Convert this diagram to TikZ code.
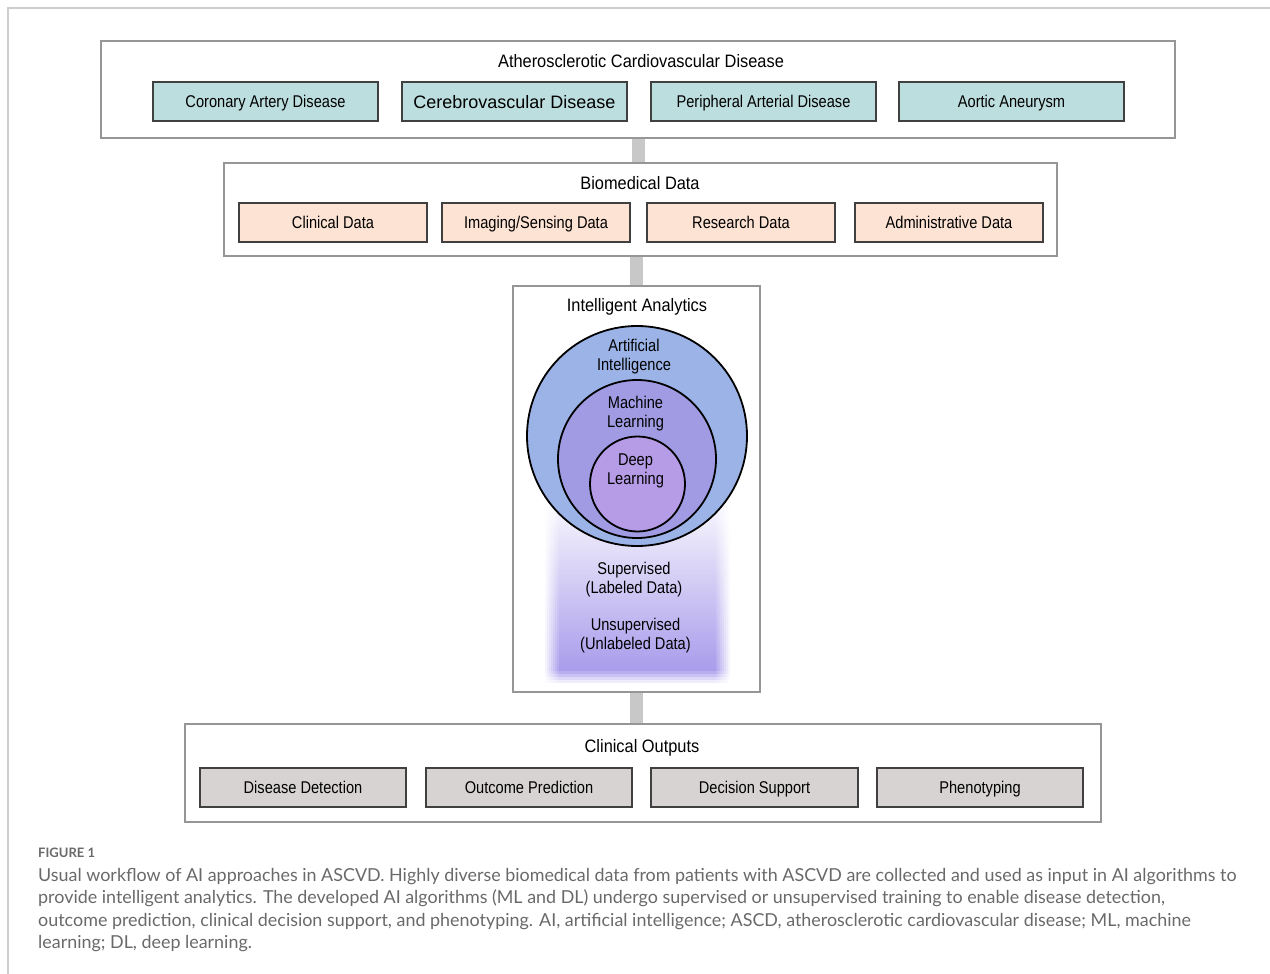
\documentclass[tikz,border=0pt]{standalone}
\usepackage{fontspec}
\setmainfont{Liberation Sans}
\newfontfamily\narfont[FakeStretch=0.86]{Liberation Sans}
\newfontfamily\titfont[FakeStretch=0.91]{Liberation Sans}
\newfontfamily\capfont{Lato}
\usetikzlibrary{calc}
\definecolor{tealc}{RGB}{189,222,222}
\definecolor{peachc}{RGB}{253,227,211}
\definecolor{greyc}{RGB}{216,211,211}
\definecolor{framec}{RGB}{150,150,150}
\definecolor{barc}{RGB}{200,200,200}
\definecolor{aiC}{RGB}{155,179,230}
\definecolor{mlC}{RGB}{161,155,228}
\definecolor{dlC}{RGB}{182,156,230}
\definecolor{gradC}{RGB}{168,155,235}
\definecolor{capc}{RGB}{105,105,105}
\definecolor{outerc}{RGB}{205,205,205}
\begin{document}
\begin{tikzpicture}[x=1pt,y=-1pt,
  bigbox/.style={draw=framec, line width=2pt, fill=white, inner sep=0pt},
  subbox/.style={draw=black!75, line width=1.2pt, minimum height=39, inner sep=0pt, text depth=0pt,
    font=\narfont\fontsize{17}{20}\selectfont},
  title/.style={font=\titfont\fontsize{18}{21}\selectfont, inner sep=0pt, text depth=0pt},
  bar/.style={draw=barc, line width=13pt},
  ring/.style={circle, draw=black, line width=1.8pt, inner sep=0pt},
  clabel/.style={font=\narfont\fontsize{17}{19}\selectfont, align=center, inner sep=0pt},
  captext/.style={font=\capfont\fontsize{17.9}{20}\selectfont, text=capc, anchor=base west, inner sep=0pt}
]
\useasboundingbox (0,0) rectangle (1270,974);
\draw[outerc, line width=1.5pt] (8,974) -- (8,8) -- (1270,8);

% big boxes
\node[bigbox, minimum width=1074, minimum height=97] (ascvd) at (638,89.5) {};
\node[bigbox, minimum width=833, minimum height=93] (bio) at (640.5,209.5) {};
\node[bigbox, minimum width=247, minimum height=406] (ia) at (636.5,489) {};
\node[bigbox, minimum width=916, minimum height=98] (out) at (643,773) {};

% connectors
\draw[bar] (ascvd.south) -- (ascvd.south |- bio.north);
\draw[bar] (bio.south -| ia.north) -- (ia.north);
\draw[bar] (ia.south) -- (ia.south |- out.north);

% titles
\node[title] (t1) at (641,61) {Atherosclerotic Cardiovascular Disease};
\node[title] (t2) at (640,183) {Biomedical Data};
\node[title] (t3) at (637,305) {Intelligent Analytics};
\node[title] (t4) at (642,746) {Clinical Outputs};

% disease boxes
\node[subbox, fill=tealc, minimum width=225] (cad) at (265.5,101.5) {Coronary Artery Disease};
\node[subbox, fill=tealc, minimum width=225, font=\fontsize{18}{21}\selectfont] (cvd) at (514.5,101.5) {Cerebrovascular Disease};
\node[subbox, fill=tealc, minimum width=225] (pad) at (763.5,101.5) {Peripheral Arterial Disease};
\node[subbox, fill=tealc, minimum width=225] (aa) at (1011.5,101.5) {Aortic Aneurysm};

% data boxes
\node[subbox, fill=peachc, minimum width=188] (cd) at (333,222.5) {Clinical Data};
\node[subbox, fill=peachc, minimum width=188] (isd) at (536,222.5) {Imaging/Sensing Data};
\node[subbox, fill=peachc, minimum width=188] (rd) at (741,222.5) {Research Data};
\node[subbox, fill=peachc, minimum width=188] (ad) at (949,222.5) {Administrative Data};

% output boxes
\node[subbox, fill=greyc, minimum width=206] (dd) at (303,787.5) {Disease Detection};
\node[subbox, fill=greyc, minimum width=206] (op) at (529,787.5) {Outcome Prediction};
\node[subbox, fill=greyc, minimum width=207] (ds) at (754.5,787.5) {Decision Support};
\node[subbox, fill=greyc, minimum width=206] (ph) at (980,787.5) {Phenotyping};

% soft gradient region (opaque strips mixed with white)
\foreach \j in {0,...,65} {
  \pgfmathsetmacro\yy{488+3*\j}
  \pgfmathsetmacro\vv{min(1,(\j*3+1.5)/185)*max(0,min(1,(684-\yy-1.5)/14))}
  \foreach \i in {0,...,7} {
    \pgfmathsetmacro\pp{100*\vv*(\i+1)/8}
    \fill[gradC!\pp!white] (545+2*\i,\yy) rectangle (730-2*\i,\yy+3.3);
  }
}

% nested circles
\node[ring, fill=aiC, minimum size=220] (ai) at (637,436) {};
\node[ring, fill=mlC, minimum size=158] (ml) at (637,459) {};
\node[ring, fill=dlC, minimum size=95] (dl) at (637.5,484) {};

\node[clabel] (lai) at (634,356.5) {Artificial\\Intelligence};
\node[clabel] (lml) at (635.5,413.5) {Machine\\Learning};
\node[clabel] (ldl) at (635.5,470.5) {Deep\\Learning};

\node[clabel] (sup) at (634,579.5) {Supervised\\(Labeled Data)};
\node[clabel] (uns) at (635.5,635.5) {Unsupervised\\(Unlabeled Data)};

% caption
\node[captext, font=\capfont\bfseries\fontsize{13}{15}\selectfont] (fig) at (38,857) {FIGURE 1};
\node[captext] (c1) at (38,881) {Usual workflow of AI approaches in ASCVD. Highly diverse biomedical data from patients with ASCVD are collected and used as input in AI algorithms to};
\node[captext] (c2) at (38,903.5) {provide intelligent analytics. The developed AI algorithms (ML and DL) undergo supervised or unsupervised training to enable disease detection,};
\node[captext] (c3) at (38,926) {outcome prediction, clinical decision support, and phenotyping. AI, artificial intelligence; ASCD, atherosclerotic cardiovascular disease; ML, machine};
\node[captext] (c4) at (38,948.5) {learning; DL, deep learning.};
\end{tikzpicture}
\end{document}
